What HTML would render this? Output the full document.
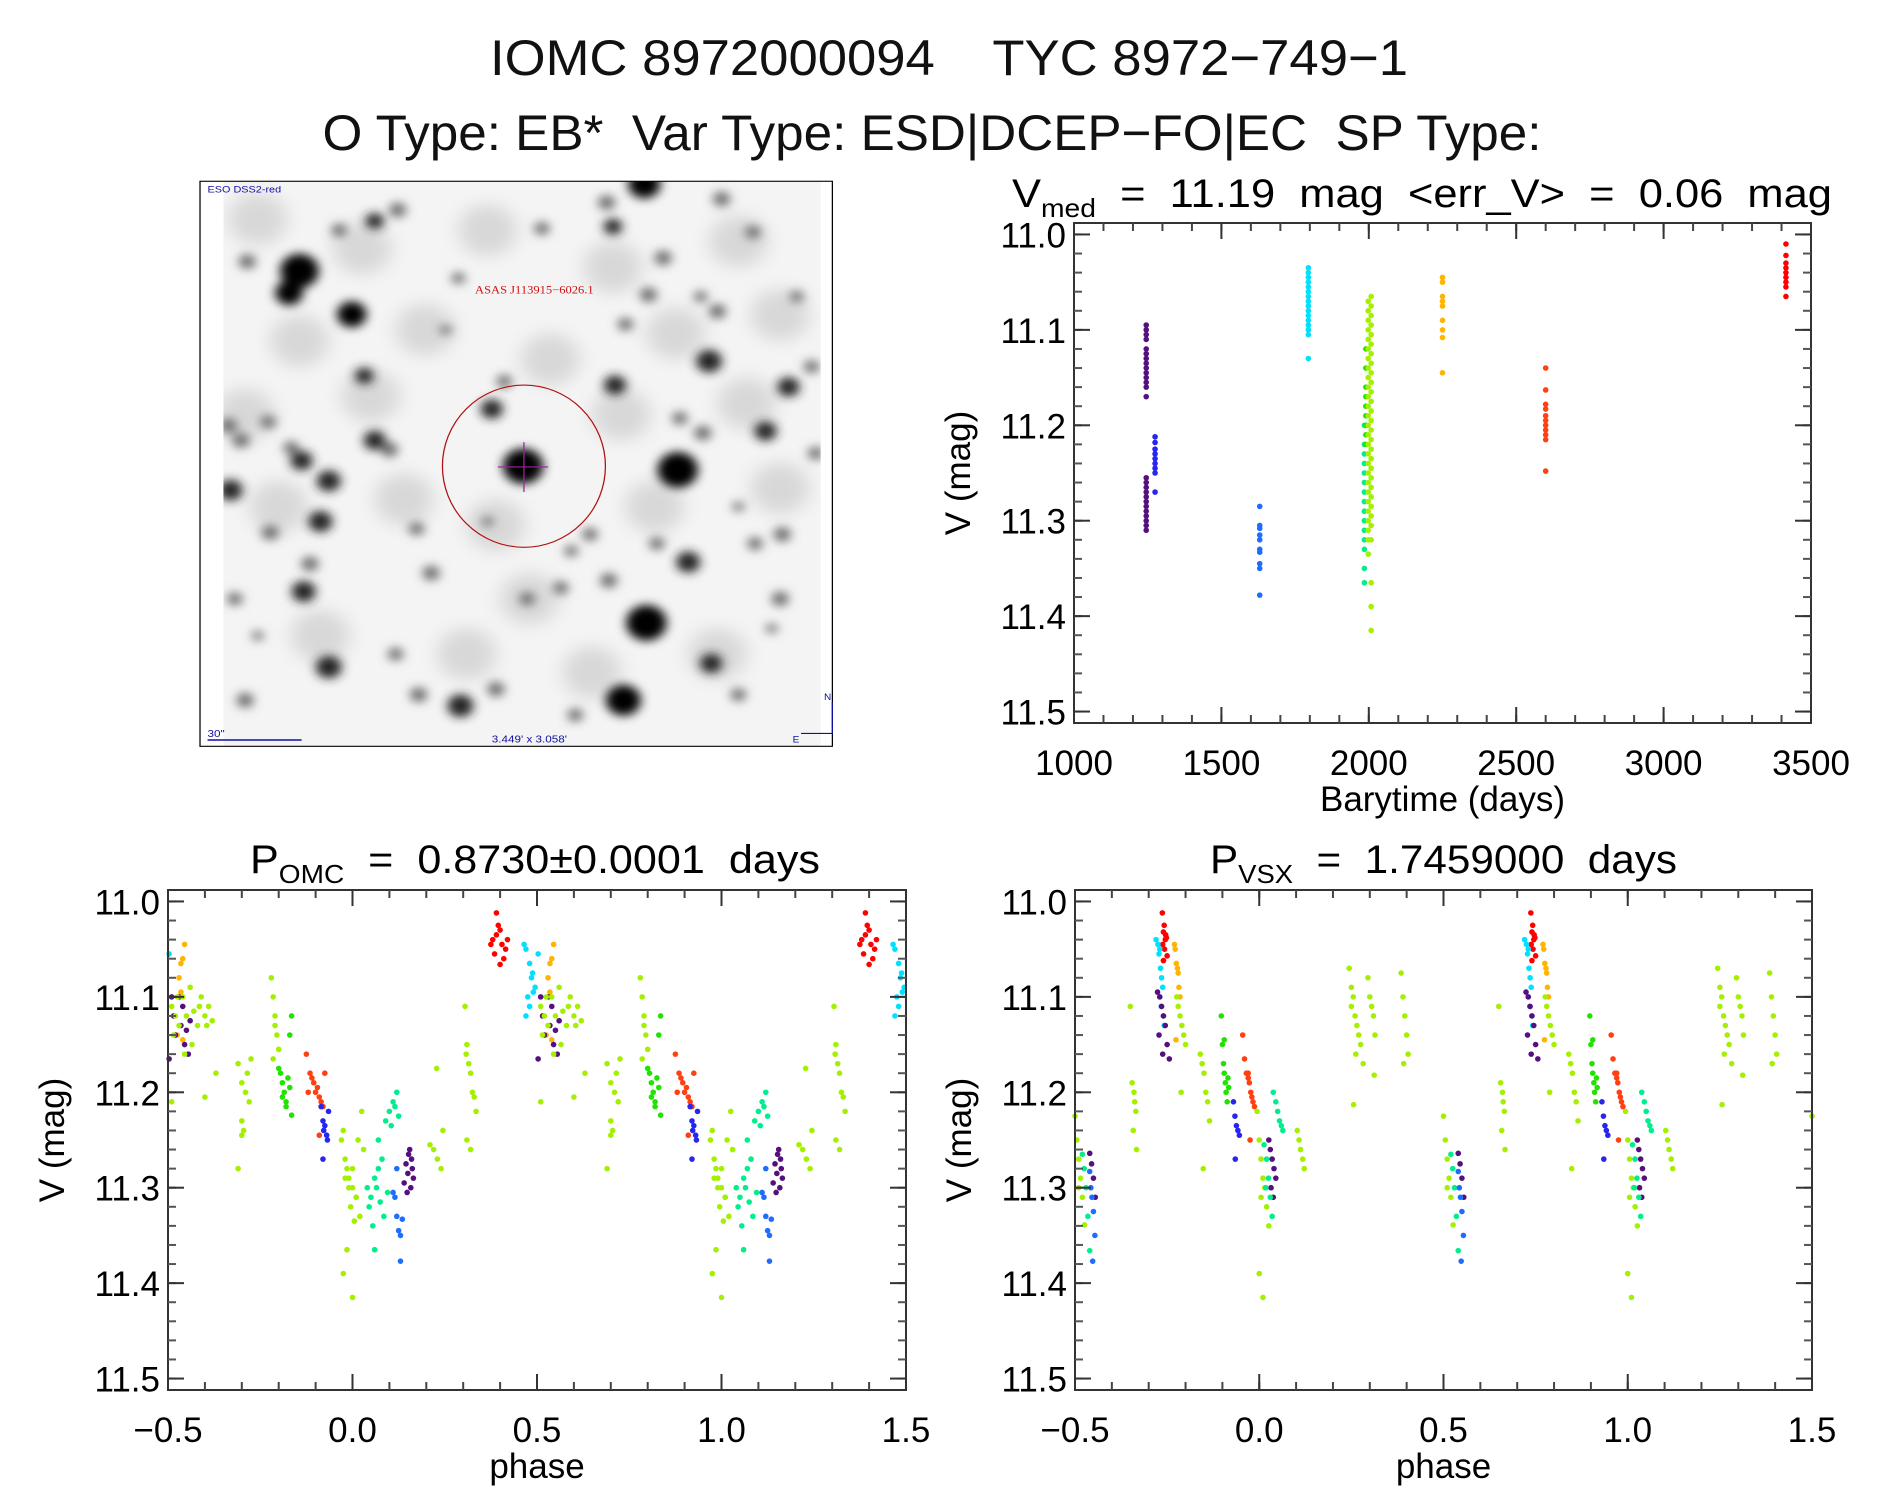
<!DOCTYPE html>
<html><head><meta charset="utf-8"><title>IOMC 8972000094</title>
<style>
html,body{margin:0;padding:0;background:#fff;}
svg{display:block;font-family:"Liberation Sans",sans-serif;}
text{white-space:pre;}
</style></head>
<body>
<svg id="root" width="1889" height="1494" viewBox="0 0 1889 1494" xmlns="http://www.w3.org/2000/svg">
<defs>
<filter id="blur" x="-50%" y="-50%" width="200%" height="200%"><feGaussianBlur stdDeviation="13"/></filter>
<filter id="blur2" x="-50%" y="-50%" width="200%" height="200%"><feGaussianBlur stdDeviation="22"/></filter>
<clipPath id="skyclip"><rect x="68" y="17" width="1429" height="1533"/></clipPath>
</defs>
<text x="949" y="75" font-size="50" text-anchor="middle" textLength="918" lengthAdjust="spacingAndGlyphs" fill="#111" font-weight="normal" xml:space="preserve">IOMC 8972000094    TYC 8972−749−1</text>
<text x="932" y="150" font-size="50" text-anchor="middle" textLength="1219" lengthAdjust="spacingAndGlyphs" fill="#111" xml:space="preserve">O Type: EB*  Var Type: ESD|DCEP−FO|EC  SP Type:</text>

<svg x="195" y="175" width="652" height="575" viewBox="0 0 1560 1560" preserveAspectRatio="none">
  <rect x="68" y="17" width="1429" height="1533" fill="#f4f4f4"/>
  <g id="haze" clip-path="url(#skyclip)" filter="url(#blur2)"></g>
  <g id="stars" clip-path="url(#skyclip)" filter="url(#blur)"></g>
  <rect x="12" y="17" width="1513" height="1533" fill="none" stroke="#000" stroke-width="3"/>
  <ellipse cx="787" cy="790" rx="195" ry="220" fill="none" stroke="#b01010" stroke-width="3"/>
  <line x1="787" y1="725" x2="787" y2="860" stroke="#a020a0" stroke-width="3"/>
  <line x1="725" y1="792" x2="845" y2="792" stroke="#a020a0" stroke-width="3"/>
  <text x="670" y="322" font-size="30" fill="#d01010" font-family="Liberation Serif,serif">ASAS J113915−6026.1</text>
  <text x="30" y="48" font-size="26" fill="#1010a0">ESO DSS2-red</text>
  <text x="30" y="1525" font-size="28" fill="#1010a0">30"</text>
  <line x1="30" y1="1533" x2="255" y2="1533" stroke="#1010a0" stroke-width="4"/>
  <text x="710" y="1540" font-size="28" fill="#1010a0">3.449' x 3.058'</text>
  <path d="M1525,1430 V1515 H1450" fill="none" stroke="#1010a0" stroke-width="3"/>
  <text x="1505" y="1425" font-size="24" fill="#1010a0">N</text>
  <text x="1430" y="1540" font-size="24" fill="#1010a0">E</text>
</svg>

<g id="plotTR"></g>
<g id="plotLL"></g>
<g id="plotLR"></g>
</svg>
<script>
// ---------- sky image stars (zoom-space coordinates, radius) ----------
const starX=[250,225,375,485,430,345,125,1075,985,1000,830,1260,1335,1120,1085,1250,1230,1420,1030,1005,710,740,405,80,110,230,255,320,85,430,465,175,785,1155,1365,1215,1485,1475,1160,300,180,275,565,260,1180,1080,1400,795,990,320,1235,1025,635,535,720,910,120,1300,1340,1405,875,530,945,1105,480,95,630,1210,1440,600,900,700,1300,1380,150];
const starY=[260,320,378,95,125,150,235,25,75,140,145,65,155,225,325,370,505,575,405,570,635,560,545,680,720,740,775,830,855,720,745,670,790,800,695,700,755,520,660,940,970,1055,1080,1130,1050,1215,1150,1150,1100,1335,1325,1425,1440,1410,1395,1465,1425,1410,1000,975,1120,960,975,1000,1300,1150,280,330,330,420,1020,940,900,1230,1250];
const starR=[42,30,32,18,20,16,18,35,18,20,16,18,16,18,18,18,28,24,16,24,24,16,20,18,18,16,24,26,26,24,18,16,44,44,24,18,16,16,16,26,18,18,18,26,26,44,18,16,18,28,24,38,28,18,18,16,18,16,16,18,16,16,16,16,16,16,14,14,14,12,14,12,12,12,12];
const hazeX=[150,400,700,1000,1300,250,550,850,1150,1400,120,420,720,1020,1320,200,500,800,1100,1400,300,650,950,1250];
const hazeY=[120,200,150,250,180,450,420,500,430,380,650,600,950,650,620,900,880,1150,900,850,1250,1300,1350,1300];
const sg=document.getElementById('stars');
const hg=document.getElementById('haze');
for(let i=0;i<hazeX.length;i++){
  const c=document.createElementNS('http://www.w3.org/2000/svg','circle');
  
  
  c.setAttribute('cx',hazeX[i]);c.setAttribute('cy',hazeY[i]);c.setAttribute('r',70);
  c.setAttribute('fill','#d8d8d8');
  hg.appendChild(c);
}
for(let i=0;i<starX.length;i++){
  const c=document.createElementNS('http://www.w3.org/2000/svg','circle');
  
  
  c.setAttribute('cx',starX[i]);c.setAttribute('cy',starY[i]);c.setAttribute('r',starR[i]*1.1);
  c.setAttribute('fill',starR[i]>=30?'#000':(starR[i]>=20?'#222':'#666'));
  sg.appendChild(c);
}

// ---------- time series data ----------
const tsColors=['#55107e','#55107e','#2626f0','#1f6cff','#00e0ff','#00ee8c','#20e400','#a4f000','#a4f000','#ffb400','#ff4010','#ff0000'];
const tsTimes=[1245,1245,1275,1630,1795,1985,1990,1998,2008,2250,2600,3415];
const tsMags=[
 [11.095,11.10,11.105,11.11,11.12,11.125,11.13,11.135,11.14,11.145,11.15,11.155,11.16,11.17],
 [11.255,11.26,11.265,11.27,11.275,11.28,11.285,11.29,11.295,11.30,11.305,11.31],
 [11.212,11.218,11.225,11.23,11.235,11.24,11.245,11.25,11.27],
 [11.285,11.305,11.308,11.315,11.32,11.33,11.333,11.345,11.35,11.378],
 [11.035,11.04,11.045,11.05,11.055,11.06,11.065,11.07,11.075,11.08,11.085,11.09,11.095,11.10,11.105,11.13],
 [11.20,11.22,11.23,11.24,11.25,11.26,11.27,11.28,11.29,11.30,11.31,11.32,11.33,11.35,11.365],
 [11.12,11.14,11.16,11.17,11.18,11.19,11.20,11.21,11.22],
 [11.07,11.08,11.09,11.10,11.11,11.12,11.13,11.14,11.15,11.16,11.17,11.18,11.19,11.20,11.21,11.22,11.23,11.24,11.25,11.26,11.27,11.28,11.29,11.30,11.31,11.32,11.335],
 [11.065,11.075,11.085,11.095,11.105,11.115,11.125,11.135,11.145,11.155,11.165,11.175,11.185,11.195,11.205,11.215,11.225,11.235,11.245,11.255,11.265,11.275,11.285,11.295,11.305,11.32,11.365,11.39,11.415],
 [11.045,11.05,11.065,11.07,11.075,11.09,11.10,11.108,11.145],
 [11.14,11.163,11.178,11.183,11.19,11.195,11.20,11.205,11.21,11.215,11.248],
 [11.01,11.022,11.03,11.035,11.04,11.045,11.05,11.055,11.065]
];
const tsXTicks=[1000,1500,2000,2500,3000,3500];
const magTicks=[11.0,11.1,11.2,11.3,11.4,11.5];
const phaseTicks=[-0.5,0.0,0.5,1.0,1.5];

// ---------- phase data (phase in [-0.5,0.5)) ----------
const omcColors=['#00e0ff','#ffb400','#55107e','#a4f000','#20e400','#ff4010','#2626f0','#00ee8c','#1f6cff','#ff0000'];
const omcPhases=[
 [0.465,0.47,0.48,0.485,0.49,0.475,0.48,0.47,0.495,0.488,-0.497],
 [-0.455,-0.46,-0.465,-0.47,-0.465,-0.475,-0.46,-0.468],
 [-0.49,-0.485,-0.47,-0.465,-0.46,-0.455,-0.45,-0.445,-0.44,-0.48,-0.497,0.155,0.16,0.145,0.15,0.165,0.14,0.158,0.148,0.162,0.152],
 [-0.49,-0.48,-0.47,-0.46,-0.45,-0.44,-0.43,-0.42,-0.41,-0.40,-0.39,-0.38,-0.485,-0.475,-0.455,-0.435,-0.415,-0.395,-0.49,-0.4,-0.37,-0.31,-0.30,-0.29,-0.28,-0.30,-0.295,-0.285,-0.275,-0.31,-0.3,-0.22,-0.215,-0.21,-0.205,-0.2,-0.215,-0.21,-0.03,-0.02,-0.01,0.0,0.01,0.02,0.03,-0.025,-0.015,-0.005,0.005,0.015,0.025,-0.02,-0.01,0.0,0.01,-0.015,0.0,-0.025,0.21,0.22,0.23,0.24,0.245,0.228,0.305,0.31,0.315,0.32,0.325,0.33,0.335,0.31,0.32,0.308],
 [-0.2,-0.195,-0.19,-0.185,-0.18,-0.175,-0.17,-0.165,-0.19,-0.18,-0.165,-0.17],
 [-0.125,-0.115,-0.11,-0.105,-0.1,-0.095,-0.09,-0.085,-0.08,-0.075,-0.12,-0.09],
 [-0.085,-0.08,-0.078,-0.075,-0.07,-0.068,-0.065,-0.08],
 [0.04,0.05,0.06,0.07,0.08,0.09,0.1,0.11,0.12,0.125,0.045,0.055,0.065,0.075,0.085,0.095,0.105,0.115,0.06,0.07],
 [0.11,0.115,0.12,0.125,0.13,0.135,0.12,0.13],
 [0.375,0.38,0.385,0.39,0.395,0.40,0.405,0.41,0.415,0.42,0.39,0.4]
];
const omcMags=[
 [11.045,11.05,11.065,11.08,11.095,11.10,11.11,11.12,11.09,11.075,11.055],
 [11.045,11.06,11.065,11.08,11.095,11.14,11.145,11.10],
 [11.10,11.12,11.10,11.13,11.11,11.15,11.135,11.16,11.125,11.14,11.165,11.26,11.27,11.275,11.285,11.29,11.295,11.30,11.305,11.28,11.265],
 [11.11,11.12,11.13,11.10,11.12,11.09,11.115,11.13,11.10,11.12,11.11,11.125,11.14,11.10,11.16,11.15,11.11,11.13,11.21,11.205,11.18,11.17,11.19,11.20,11.21,11.23,11.24,11.18,11.165,11.28,11.245,11.08,11.10,11.12,11.14,11.155,11.165,11.13,11.25,11.27,11.29,11.30,11.31,11.33,11.26,11.24,11.28,11.32,11.335,11.25,11.22,11.29,11.30,11.28,11.31,11.365,11.415,11.39,11.255,11.26,11.27,11.28,11.24,11.175,11.11,11.15,11.17,11.18,11.20,11.205,11.22,11.25,11.26,11.16],
 [11.175,11.18,11.19,11.20,11.21,11.185,11.195,11.12,11.205,11.215,11.224,11.14],
 [11.16,11.18,11.185,11.19,11.2,11.195,11.205,11.21,11.215,11.18,11.20,11.245],
 [11.215,11.23,11.24,11.235,11.245,11.25,11.22,11.27],
 [11.30,11.31,11.29,11.28,11.27,11.23,11.22,11.21,11.20,11.225,11.32,11.34,11.30,11.315,11.33,11.305,11.235,11.215,11.365,11.25],
 [11.305,11.31,11.33,11.345,11.35,11.333,11.28,11.377],
 [11.045,11.04,11.055,11.035,11.025,11.03,11.045,11.06,11.05,11.04,11.012,11.066]
];
const vsxColors=['#ff0000','#00e0ff','#ffb400','#55107e','#a4f000','#20e400','#ff4010','#2626f0','#00ee8c','#1f6cff'];
const vsxPhases=[
 [-0.263,-0.258,-0.26,-0.255,-0.252,-0.262,-0.257,-0.25,-0.26,-0.254],
 [-0.28,-0.275,-0.27,-0.268,-0.265,-0.262,-0.27,-0.266,-0.26,-0.258,-0.272],
 [-0.23,-0.228,-0.225,-0.222,-0.22,-0.218,-0.215,-0.226],
 [-0.276,-0.27,-0.265,-0.26,-0.255,-0.25,-0.244,-0.272,-0.262,0.026,0.03,0.035,0.04,0.045,0.032,0.038,-0.46,-0.455,-0.45,-0.445],
 [-0.224,-0.22,-0.215,-0.21,-0.205,-0.2,-0.212,-0.35,-0.345,-0.34,-0.338,-0.335,-0.333,-0.16,-0.155,-0.15,-0.145,-0.14,-0.135,-0.152,-0.006,0.0,0.005,0.01,0.015,0.02,0.026,0.0,0.01,0.005,0.103,0.108,0.112,0.118,0.122,0.244,0.25,0.255,0.26,0.265,0.27,0.275,0.282,0.256,0.25,0.262,0.295,0.3,0.305,0.31,0.314,0.312,0.385,0.39,0.395,0.4,0.404,0.392,-0.5,-0.495,-0.49,-0.485,-0.48,-0.474,-0.49,-0.342],
 [-0.103,-0.1,-0.097,-0.095,-0.092,-0.09,-0.087,-0.085,-0.083,-0.095],
 [-0.045,-0.04,-0.035,-0.03,-0.027,-0.023,-0.02,-0.017,-0.013,-0.03,-0.025],
 [-0.07,-0.066,-0.062,-0.058,-0.054,-0.065],
 [0.038,0.045,0.05,0.055,0.06,0.064,0.013,0.02,0.025,0.03,0.035,0.018,-0.48,-0.475,-0.47,-0.465,-0.46],
 [-0.46,-0.457,-0.454,-0.45,-0.446,-0.452]
];
const vsxMags=[
 [11.012,11.025,11.032,11.04,11.038,11.045,11.05,11.057,11.062,11.035],
 [11.04,11.045,11.05,11.07,11.08,11.09,11.10,11.11,11.12,11.13,11.055],
 [11.045,11.05,11.065,11.07,11.075,11.09,11.10,11.145],
 [11.095,11.10,11.11,11.12,11.13,11.15,11.165,11.14,11.16,11.25,11.26,11.27,11.28,11.29,11.30,11.31,11.264,11.275,11.29,11.31],
 [11.10,11.11,11.12,11.13,11.14,11.15,11.2,11.11,11.19,11.20,11.21,11.22,11.26,11.16,11.17,11.18,11.20,11.21,11.23,11.28,11.22,11.25,11.27,11.29,11.30,11.32,11.34,11.39,11.415,11.31,11.24,11.25,11.26,11.27,11.28,11.07,11.09,11.10,11.12,11.13,11.14,11.15,11.17,11.213,11.11,11.16,11.08,11.10,11.11,11.12,11.14,11.182,11.075,11.10,11.12,11.14,11.16,11.17,11.225,11.25,11.27,11.29,11.31,11.339,11.3,11.24],
 [11.12,11.15,11.17,11.18,11.19,11.20,11.21,11.185,11.195,11.145],
 [11.14,11.165,11.18,11.185,11.19,11.20,11.205,11.21,11.215,11.18,11.25],
 [11.21,11.225,11.235,11.24,11.245,11.27],
 [11.20,11.21,11.22,11.23,11.235,11.24,11.255,11.27,11.29,11.31,11.33,11.30,11.265,11.28,11.30,11.33,11.366],
 [11.283,11.30,11.31,11.325,11.35,11.377]
];

const NS='http://www.w3.org/2000/svg';
function mk(tag,attrs,parent){const e=document.createElementNS(NS,tag);for(const k in attrs)e.setAttribute(k,attrs[k]);parent.appendChild(e);return e;}

function frame(g,P){
  const sx=v=>P.x0+(v-P.xmin)/(P.xmax-P.xmin)*(P.x1-P.x0);
  const sy=v=>P.y0+(v-P.ymin)/(P.ymax-P.ymin)*(P.y1-P.y0);
  return {sx,sy};
}
function axes(g,P,S,xticks,xminor,xfmt,yticks,yminor,xlabel){
  const r=mk('rect',{x:P.x0,y:P.y0,width:P.x1-P.x0,height:P.y1-P.y0,fill:'none',stroke:'#333','stroke-width':2},g);
  
  
  for(let v=P.xa;v<=P.xb+1e-9;v+=xminor){
    const x=S.sx(v);
    mk('line',{x1:x,x2:x,y1:P.y1,y2:P.y1-8,stroke:'#444','stroke-width':2},g);
    mk('line',{x1:x,x2:x,y1:P.y0,y2:P.y0+8,stroke:'#444','stroke-width':2},g);
  }
  for(let v=11.0;v<=11.5+1e-9;v+=yminor){
    const y=S.sy(v);
    mk('line',{x1:P.x0,x2:P.x0+8,y1:y,y2:y,stroke:'#555','stroke-width':2},g);
    mk('line',{x1:P.x1,x2:P.x1-8,y1:y,y2:y,stroke:'#555','stroke-width':2},g);
  }
  xticks.forEach(v=>{
    const x=S.sx(v);
    mk('line',{x1:x,x2:x,y1:P.y1,y2:P.y1-16,stroke:'#333','stroke-width':2},g);
    mk('line',{x1:x,x2:x,y1:P.y0,y2:P.y0+16,stroke:'#333','stroke-width':2},g);
    const t=mk('text',{x:x,y:P.y1+52,'font-size':35,'text-anchor':'middle',fill:'#000'},g);
    
    
    t.textContent=xfmt(v);
  });
  yticks.forEach(v=>{
    const y=S.sy(v);
    mk('line',{x1:P.x0,x2:P.x0+16,y1:y,y2:y,stroke:'#333','stroke-width':2},g);
    mk('line',{x1:P.x1,x2:P.x1-16,y1:y,y2:y,stroke:'#333','stroke-width':2},g);
    const t=mk('text',{x:P.x0-8,y:y+13,'font-size':35,'text-anchor':'end',fill:'#000'},g);
    
    
    t.textContent=v.toFixed(1);
  });
  const yl=mk('text',{x:0,y:0,'font-size':35,'text-anchor':'middle',fill:'#000',transform:`translate(${P.x0-104},${(P.y0+P.y1)/2}) rotate(-90)`},g);
  
  
  yl.textContent='V (mag)';
  const xl=mk('text',{x:(P.x0+P.x1)/2,y:P.y1+88,'font-size':35,'text-anchor':'middle',fill:'#000'},g);
  
  
  xl.textContent=xlabel;
}
function title(g,x,y,len,main,sub,rest){
  const t=mk('text',{x:x,y:y,'font-size':40,fill:'#000',textLength:len,lengthAdjust:'spacingAndGlyphs'},g);
  
  
  const a=mk('tspan',{},t);a.textContent=main;
  const b=mk('tspan',{'font-size':26,dy:10},t);b.textContent=sub;
  const c=mk('tspan',{dy:-10},t);c.textContent=rest;
  return t;
}
function dot(g,x,y,col){
  const c=mk('circle',{cx:x,cy:y,r:2.8,fill:col},g);
  
  
}

(function(){
  const g=document.getElementById('plotTR');
  const P={x0:1074,x1:1811,y0:223,y1:723,xmin:1000,xmax:3500,ymin:10.988,ymax:11.512,xa:1000,xb:3500};
  const S=frame(g,P);
  for(let i=0;i<tsTimes.length;i++) tsMags[i].forEach(m=>dot(g,S.sx(tsTimes[i]),S.sy(m),tsColors[i]));
  axes(g,P,S,tsXTicks,100,v=>String(v),magTicks,0.02,'Barytime (days)');
  title(g,1012,207,820,'V','med','  =  11.19  mag  <err_V>  =  0.06  mag');
})();

function phasePanel(id,x0,x1,phases,mags,colors,tmain,tsub,trest,tx,tlen){
  const g=document.getElementById(id);
  const P={x0:x0,x1:x1,y0:890,y1:1390,xmin:-0.5,xmax:1.5,ymin:10.988,ymax:11.512,xa:-0.5,xb:1.5};
  const S=frame(g,P);
  for(let i=0;i<phases.length;i++){
    for(let j=0;j<phases[i].length;j++){
      const p=phases[i][j],m=mags[i][j];
      [p,p+1,p+2].forEach(q=>{ if(q>=-0.5&&q<=1.5) dot(g,S.sx(q),S.sy(m),colors[i]); });
    }
  }
  axes(g,P,S,phaseTicks,0.1,v=>(v<0?'−':'')+Math.abs(v).toFixed(1),magTicks,0.02,'phase');
  title(g,tx,873,tlen,tmain,tsub,trest);
}
phasePanel('plotLL',168,906,omcPhases,omcMags,omcColors,'P','OMC','  =  0.8730±0.0001  days',250,570);
phasePanel('plotLR',1075,1812,vsxPhases,vsxMags,vsxColors,'P','VSX','  =  1.7459000  days',1210,467);
</script>
</body></html>
